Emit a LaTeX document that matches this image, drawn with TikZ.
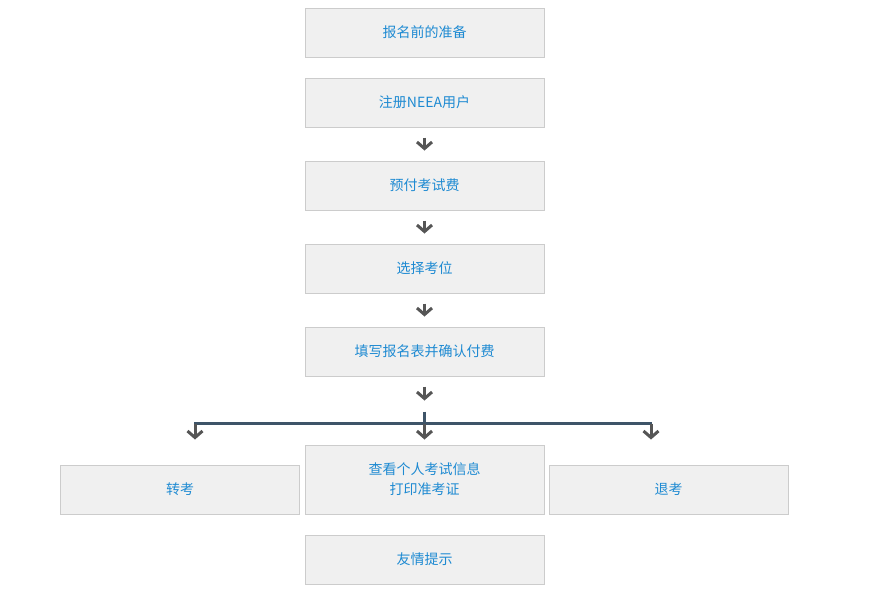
\documentclass[tikz,border=0pt]{standalone}
\usepackage{fontspec}
\newfontfamily\cjk{Noto Sans CJK SC}
\usetikzlibrary{arrows.meta,positioning}
\definecolor{boxfill}{HTML}{F0F0F0}
\definecolor{boxline}{HTML}{CCCCCC}
\definecolor{txtblue}{HTML}{1E8AD2}
\definecolor{arrgray}{HTML}{555555}
\definecolor{forkline}{HTML}{3E5468}

\begin{document}
\begin{tikzpicture}[
			x=1pt, y=1pt,
			node distance=20pt,
			stepbox/.style={
				draw=boxline,
				line width=1pt,
				fill=boxfill,
				text=txtblue,
				align=center,
				font=\cjk\fontsize{14}{20}\selectfont,
				minimum width=239pt,
				minimum height=49pt,
				inner sep=0pt
			},
			flowarrow/.style={
				draw=arrgray,
				line width=3pt,
				-{Straight Barb[length=6.5pt,width=15pt,line width=3pt]},
				shorten <=10pt,
				shorten >=10pt
			},
			forkbar/.style={
				draw=forkline,
				line width=2.5pt
			}
			]
			
			\useasboundingbox (0,0) rectangle (880,-590);
			
			% Main column
			\node[stepbox] at (424.5,-32.5) (prep) {报名前的准备};
			\node[stepbox,below=of prep] (reg) {注册NEEA用户};
			\node[stepbox,below=33pt of reg] (pay) {预付考试费};
			\node[stepbox,below=33pt of pay] (seat) {选择考位};
			\node[stepbox,below=33pt of seat] (form) {填写报名表并确认付费};
			
			% Branches
			\node[stepbox,minimum height=69pt,below=68pt of form] (view)
			{查看个人考试信息\\打印准考证};
			\node[stepbox,anchor=south east] at ([xshift=-4.5pt]view.south west) (trans) {转考};
			\node[stepbox,anchor=south west] at ([xshift=4pt]view.south east) (refund) {退考};
			\node[stepbox,below=of view] (tips) {友情提示};
			
			% Fork
			\coordinate (fork) at (424.5,-423.5);
			\coordinate (forkL) at (195,-423.5);
			\coordinate (forkR) at (651,-423.5);
			
			% Arrows down the column
			\draw[flowarrow] (reg.south) -- (pay.north);
			\draw[flowarrow] (pay.south) -- (seat.north);
			\draw[flowarrow] (seat.south) -- (form.north);
			\draw[flowarrow,shorten >=23pt] (form.south) -- (fork);
			
			% Split into three
			\draw[forkbar] ([yshift=12pt]fork) -- (fork);
			\draw[forkbar] ([xshift=-1pt]forkL) -- ([xshift=1pt]forkR);
			\draw[flowarrow,shorten <=0pt,shorten >=25pt] (forkL) -- (forkL |- trans.north);
			\draw[flowarrow,shorten <=0pt,shorten >=5pt] (fork) -- (view.north);
			\draw[flowarrow,shorten <=0pt,shorten >=25pt] (forkR) -- (forkR |- refund.north);
			
		\end{tikzpicture}
\end{document}
